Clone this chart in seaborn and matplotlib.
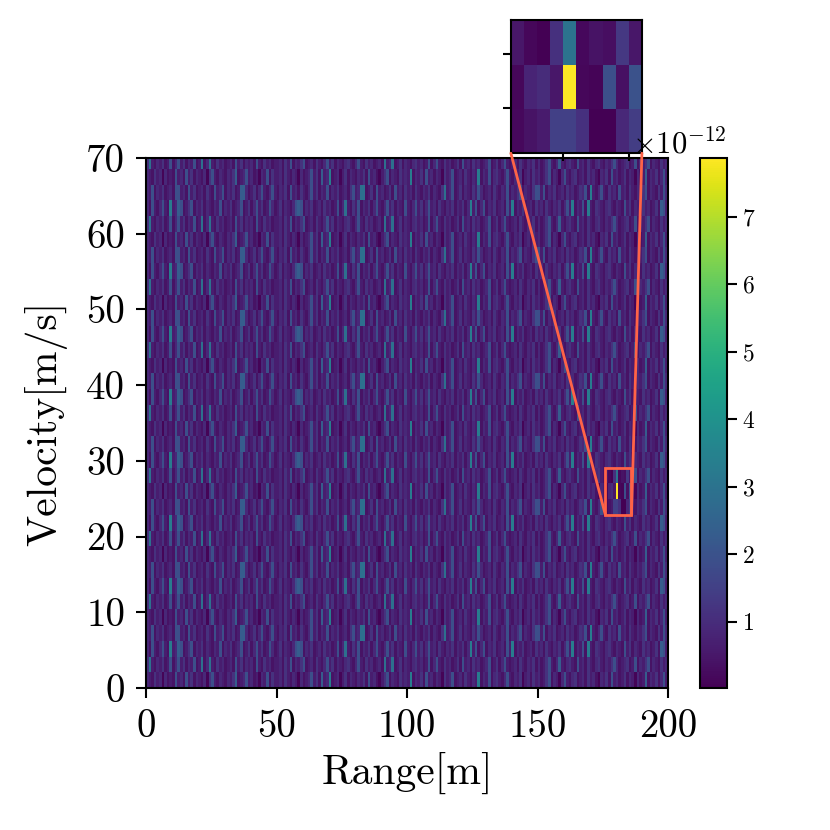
import numpy as np
import pandas as pd
import matplotlib
matplotlib.use("Agg")
from matplotlib import pyplot as plt
from matplotlib.patches import Rectangle, ConnectionPatch
import seaborn as sns

# range-doppler map, values in units of 1e-12
# each row pattern is a string of levels (index into levels); the map repeats every 4 velocity bins
levels = [0.1, 0.4, 0.65, 0.9, 1.15, 1.4, 1.9, 2.3, 2.9, 3.3]

row_a = ("3214230312" "1623162413" "2130462132" "1324712362" "3120326142"
         "2314213203" "1236241723" "9123024132" "1324162310" "2461321423"
         "2913241623" "1320423612" "3142132913" "2613421362" "1324023142"
         "3124613203" "6213412314" "2310324162" "3124132031" "2713241362")
row_b = ("4821324126" "1362413261" "2813821423" "1231624132" "3162142312"
         "2314261324" "6123142136" "2413213421" "3621423123" "1823812413"
         "2134231261" "3621423124" "1623142312" "3612413621" "2314213241"
         "3124621372" "1342162314" "2134213246" "3123412613" "2461321423")
row_c = ("3162136219" "2376124613" "2413213261" "3241236124" "1362412631"
         "2413213676" "1324123142" "3126138214" "2613241362" "1362413216"
         "2136241362" "3142132413" "2413926136" "1324123162" "9132412314"
         "2314213241" "3629132619" "2143213421" "3216241321" "4231241762")
row_d = ("3261324123" "1662316241" "2314216236" "1324127731" "2413621362"
         "1324162314" "2136241326" "1324123146" "2388124162" "3124162314"
         "2314213241" "3214823612" "4132142631" "2314213261" "3246132146"
         "6261324123" "1423124361" "9213621423" "1623142132" "4613214263")
row_patterns = [row_a, row_b, row_c, row_d]

# cells around the target (velocity bins 11-13, range bins 176-185), read from the zoom
inset_rows = [11, 12, 13]
inset_cols = list(range(176, 186))
inset_cells = [
    [0.2, 0.4, 0.6, 1.5, 1.5, 1.1, 0.02, 0.05, 0.9, 1.4],
    [0.15, 0.8, 1.0, 0.5, 7.87, 0.15, 0.1, 1.9, 0.35, 2.0],
    [0.5, 0.15, 0.05, 1.1, 3.0, 0.2, 0.4, 0.3, 1.3, 0.5],
]

n_vel = 34
n_rng = 200
dv = 2.078  # velocity bin [m/s]
v_max = 70

range_ticks = [0, 50, 100, 150, 200]
vel_ticks = [0, 10, 20, 30, 40, 50, 60, 70]

power = np.array([[levels[int(c)] for c in row_patterns[i % 4]] for i in range(n_vel)])
power[inset_rows[0]:inset_rows[-1] + 1, inset_cols[0]:inset_cols[-1] + 1] = inset_cells
power = power * 1e-12
rd_map = pd.DataFrame(power)

sns.set_style("ticks")
plt.rcParams["font.family"] = ["cmr10", "DejaVu Serif"]
plt.rcParams["mathtext.fontset"] = "cm"
plt.rcParams["axes.formatter.use_mathtext"] = True
plt.rcParams["axes.edgecolor"] = "black"
plt.rcParams["axes.labelcolor"] = "black"
plt.rcParams["text.color"] = "black"
plt.rcParams["xtick.color"] = "black"
plt.rcParams["ytick.color"] = "black"

fig = plt.figure(figsize=(8.3, 8.3), dpi=100)
ax = fig.add_axes([146 / 830, 142 / 830, 522 / 830, 530 / 830])
cax = fig.add_axes([700 / 830, 142 / 830, 27 / 830, 530 / 830])

vmin = power.min()
vmax = power.max()
sns.heatmap(rd_map, ax=ax, cmap="viridis", vmin=vmin, vmax=vmax, cbar_ax=cax,
            xticklabels=False, yticklabels=False)

ax.set_xlim(0, n_rng)
ax.set_ylim(0, v_max / dv)
ax.set_xticks(range_ticks)
ax.set_xticklabels([str(t) for t in range_ticks])
ax.set_yticks([v / dv for v in vel_ticks])
ax.set_yticklabels([str(v) for v in vel_ticks])
ax.tick_params(labelsize=28, length=7, width=1.5, direction="out", pad=8)
for s in ax.spines.values():
    s.set_visible(True)
    s.set_linewidth(1.5)
ax.set_xlabel("Range[m]", fontsize=30, labelpad=5)
ax.set_ylabel("Velocity[m/s]", fontsize=30, labelpad=14)

cb = ax.collections[0].colorbar
cb.outline.set_linewidth(1.5)
cb.outline.set_edgecolor("black")
cb.ax.tick_params(labelsize=17, length=7, width=1.5)
cb.ax.yaxis.get_offset_text().set_fontsize(22)

# zoomed inset above the map
axins = ax.inset_axes([0.699, 1.009, 0.251, 0.251])
sns.heatmap(rd_map, ax=axins, cmap="viridis", vmin=vmin, vmax=vmax, cbar=False,
            xticklabels=False, yticklabels=False)
x0, x1 = inset_cols[0], inset_cols[-1] + 1
y0, y1 = inset_rows[0], inset_rows[-1] + 1
axins.set_xlim(x0, x1)
axins.set_ylim(y0, y1)
axins.set_xticks([180, 185])
axins.set_xticklabels([])
axins.set_yticks([25 / dv, 27.5 / dv])
axins.set_yticklabels([])
axins.tick_params(length=6, width=1.5, direction="out")
for s in axins.spines.values():
    s.set_visible(True)
    s.set_linewidth(1.5)

# zoom box and connector lines
ax.add_patch(Rectangle((x0, y0), x1 - x0, y1 - y0, fill=False,
                       edgecolor="tomato", linewidth=2, zorder=5))
for corner_ins, corner_box in [((0, 0), (x0, y0)), ((1, 0), (x1, y0))]:
    con = ConnectionPatch(xyA=corner_ins, coordsA=axins.transAxes,
                          xyB=corner_box, coordsB=ax.transData,
                          color="tomato", linewidth=2, zorder=5)
    fig.add_artist(con)

fig.savefig("out.png", dpi=100)
